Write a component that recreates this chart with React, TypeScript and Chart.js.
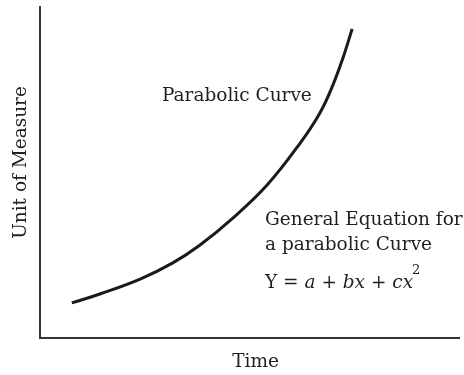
import React, { useEffect, useRef } from "react";
import { Chart, registerables } from "chart.js";

Chart.register(...registerables);

// Curve (x: time, y: unit of measure; both on a 0–100 scale)
const timeValues = [7.6, 14.3, 23.9, 31.7, 38.2, 46.1, 54.2, 62.1, 66.8, 69.9, 72.3, 74.5];
const measureValues = [10.6, 13.3, 17.8, 22.7, 28.1, 36.3, 46.2, 58.9, 68.0, 76.4, 84.6, 93.4];

const xAxisTitle = "Time";
const yAxisTitle = "Unit of Measure";
const curveLabel = "Parabolic Curve";
const equationLines = ["General Equation for", "a parabolic Curve"];

const FONT = "'DejaVu Serif', serif";
const TEXT_COLOR = "#231f20";
const FS = 18.5;

const annotationPlugin = {
  id: "annotations",
  afterDraw(chart: any) {
    const { ctx, scales, chartArea } = chart;
    const xs = scales.x;
    const ys = scales.y;
    ctx.save();
    ctx.fillStyle = TEXT_COLOR;
    ctx.textBaseline = "alphabetic";
    ctx.textAlign = "left";
    ctx.font = `${FS}px ${FONT}`;
    // curve label
    ctx.fillText(curveLabel, xs.getPixelForValue(29.1), ys.getPixelForValue(71.5));
    // equation text
    const ex = xs.getPixelForValue(53.7);
    ctx.fillText(equationLines[0], ex, ys.getPixelForValue(34.1));
    ctx.fillText(equationLines[1], ex, ys.getPixelForValue(26.6));
    // Y = a + bx + cx^2
    const segs: [string, boolean][] = [
      ["Y = ", false],
      ["a", true],
      [" + ", false],
      ["bx", true],
      [" + ", false],
      ["cx", true],
    ];
    let cx = ex;
    const ey = ys.getPixelForValue(15.1);
    for (const [t, it] of segs) {
      ctx.font = `${it ? "italic " : ""}${FS}px ${FONT}`;
      ctx.fillText(t, cx, ey);
      cx += ctx.measureText(t).width;
    }
    ctx.font = `13px ${FONT}`;
    ctx.fillText("2", cx - 1, ey - 14);

    // axis titles
    ctx.font = `${FS}px ${FONT}`;
    ctx.textAlign = "center";
    ctx.textBaseline = "middle";
    ctx.fillText(xAxisTitle, (chartArea.left + chartArea.right) / 2 + 6, chartArea.bottom + 24);
    ctx.translate(chartArea.left - 19, (chartArea.top + chartArea.bottom) / 2 - 10);
    ctx.rotate(-Math.PI / 2);
    ctx.fillText(yAxisTitle, 0, 0);
    ctx.restore();
  },
};

export default function App() {
  const ref = useRef<HTMLCanvasElement | null>(null);
  useEffect(() => {
    if (!ref.current) return;
    const chart = new Chart(ref.current, {
      type: "line",
      data: {
        datasets: [
          {
            data: timeValues.map((x, i) => ({ x, y: measureValues[i] })),
            borderColor: "#1a1a1a",
            borderWidth: 3,
            pointRadius: 0,
            tension: 0.4,
            fill: false,
          },
        ],
      },
      options: {
        animation: false,
        responsive: true,
        maintainAspectRatio: false,
        layout: { padding: { left: 40, right: 5, top: 7, bottom: 37 } },
        plugins: { legend: { display: false }, tooltip: { enabled: false } },
        scales: {
          x: {
            type: "linear",
            min: 0,
            max: 100,
            ticks: { display: false },
            grid: { display: false, drawTicks: false },
            border: { display: true, color: "#333", width: 2 },
          },
          y: {
            type: "linear",
            min: 0,
            max: 100,
            ticks: { display: false },
            grid: { display: false, drawTicks: false },
            border: { display: true, color: "#333", width: 2 },
          },
        },
      },
      plugins: [annotationPlugin],
    });
    return () => chart.destroy();
  }, []);
  return (
    <div style={{ position: "absolute", left: 0, top: 0, width: 464, height: 375 }}>
      <canvas ref={ref} />
    </div>
  );
}
